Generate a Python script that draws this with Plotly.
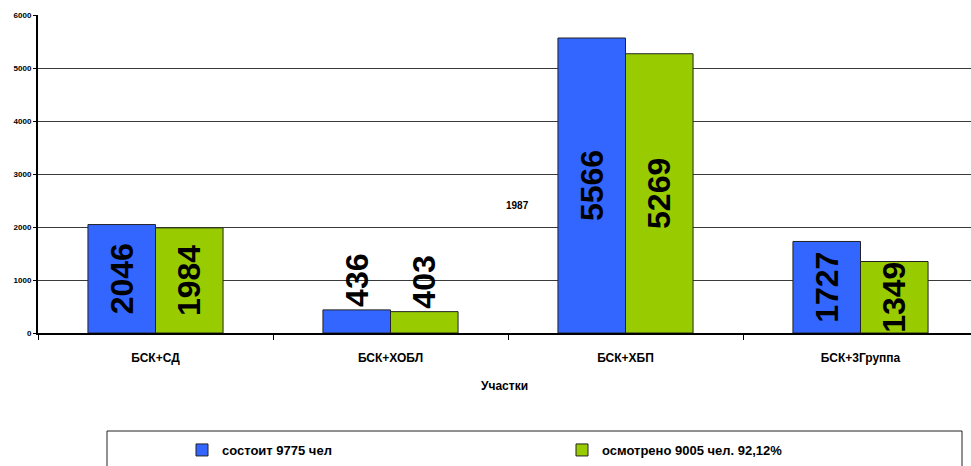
import plotly.graph_objects as go

categories = ["БСК+СД", "БСК+ХОБЛ", "БСК+ХБП", "БСК+3Группа"]
sostoit = [2046, 436, 5566, 1727]
osmotreno = [1984, 403, 5269, 1349]
series_names = ["состоит 9775 чел", "осмотрено 9005 чел. 92,12%"]
pos_blue = ["inside", "outside", "inside", "inside"]
pos_green = ["inside", "outside", "inside", "inside"]

FONT = "Arial, 'Liberation Sans', sans-serif"
W, H = 971, 466
L, T, B = 38, 15, 133

fig = go.Figure()
fig.add_trace(go.Bar(
    name=series_names[0], x=categories, y=sostoit,
    marker=dict(color="#3366FF", line=dict(color="#222222", width=1)),
    text=[str(v) for v in sostoit], textposition=pos_blue, textangle=-90,
    insidetextanchor="middle", constraintext="none", cliponaxis=False,
    textfont=dict(family=FONT, size=32, color="black", weight="bold"),
))
fig.add_trace(go.Bar(
    name=series_names[1], x=categories, y=osmotreno,
    marker=dict(color="#99CC00", line=dict(color="#222222", width=1)),
    text=[str(v) for v in osmotreno], textposition=pos_green, textangle=-90,
    insidetextanchor="middle", constraintext="none", cliponaxis=False,
    textfont=dict(family=FONT, size=32, color="black", weight="bold"),
))

plot_w = W - L
plot_h = H - T - B
group_px = 235.0
fig.update_layout(
    width=W, height=H,
    margin=dict(l=L, r=0, t=T, b=B, pad=0, autoexpand=False),
    paper_bgcolor="white", plot_bgcolor="white",
    barmode="group", bargap=0.425, bargroupgap=0,
    font=dict(family=FONT, color="black"),
    xaxis=dict(
        range=[-0.5, -0.5 + plot_w / group_px],
        showline=True, linecolor="black", linewidth=2,
        ticks="outside", tickson="boundaries", ticklen=5, tickcolor="black",
        ticklabelstandoff=13,
        tickfont=dict(family=FONT, size=12, color="black", weight="bold"),
        title=dict(text="Участки", font=dict(family=FONT, size=12, color="black", weight="bold"), standoff=17),
        showgrid=False, fixedrange=True, automargin=False,
    ),
    yaxis=dict(
        range=[0, 6000], dtick=1000,
        showline=True, linecolor="black", linewidth=2,
        ticks="outside", ticklen=3, tickcolor="black",
        tickfont=dict(family=FONT, size=8, color="black", weight="bold"),
        showgrid=True, gridcolor="#3a3a3a", gridwidth=1,
        zeroline=False, fixedrange=True, automargin=False,
    ),
    legend=dict(
        orientation="h", x=(182 - L) / plot_w, xanchor="left",
        y=-(435 - 333) / plot_h, yanchor="top",
        entrywidth=335, entrywidthmode="pixels",
        font=dict(family=FONT, size=13, color="black", weight="bold"),
        bgcolor="rgba(0,0,0,0)", borderwidth=0, itemclick=False,
    ),
    showlegend=True,
)

# legend frame
fig.add_shape(type="rect", xref="paper", yref="paper",
              x0=(107 - L) / plot_w, x1=(962 - L) / plot_w,
              y0=-(470 - 333) / plot_h, y1=-(431 - 333) / plot_h,
              line=dict(color="#222222", width=1), fillcolor="rgba(0,0,0,0)", layer="below")

fig.add_annotation(text="1987", xref="paper", yref="paper",
                   x=(517 - L) / plot_w, y=(333 - 205) / plot_h,
                   showarrow=False, font=dict(family=FONT, size=10, color="black", weight="bold"))

fig.write_html("out.html")
